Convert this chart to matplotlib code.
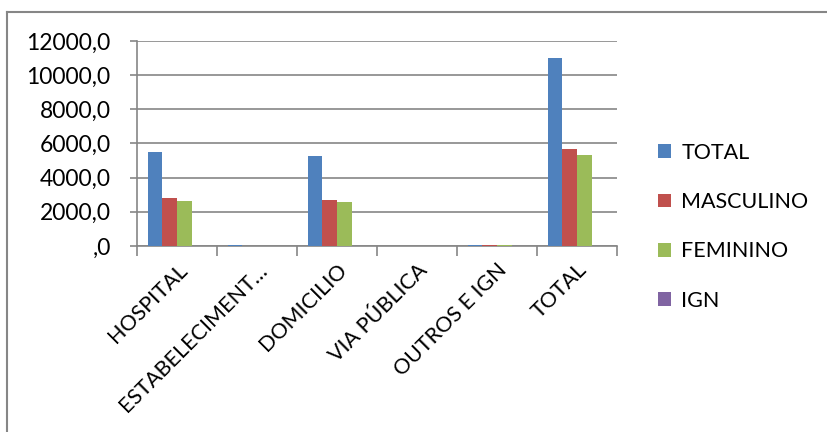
import matplotlib.pyplot as plt
import numpy as np
from matplotlib.lines import Line2D

categories = ['HOSPITAL', 'ESTABELECIMENT…', 'DOMICILIO', 'VIA PÚBLICA', 'OUTROS E IGN', 'TOTAL']
series_names = ['TOTAL', 'MASCULINO', 'FEMININO', 'IGN']
total = [5490, 30, 5250, 20, 80, 11010]
masculino = [2830, 15, 2680, 10, 45, 5680]
feminino = [2620, 12, 2560, 8, 30, 5330]
ign = [0, 0, 0, 0, 5, 5]
colors = ['#4f81bd', '#c0504d', '#9bbb59', '#8064a2']

plt.rcParams['font.family'] = ['Lato', 'DejaVu Sans']

fig = plt.figure(figsize=(8.28, 4.32), dpi=100)
ax = fig.add_axes([0.1655, 0.4306, 0.5797, 0.4745])

x = np.arange(len(categories))
w = 1 / 5.5
data = [total, masculino, feminino, ign]
for i, vals in enumerate(data):
    ax.bar(x + (i - 1.5) * w, vals, w, color=colors[i], label=series_names[i], zorder=3)

ax.set_xlim(-0.5, len(categories) - 0.5)
ax.set_ylim(0, 12000)
ax.set_yticks(np.arange(0, 12001, 2000))
ax.set_yticklabels([',0'] + ['%d,0' % v for v in range(2000, 12001, 2000)], fontsize=16.5)
ax.yaxis.grid(True, color='#868686', linewidth=1.2, zorder=0)

ax.set_xticks(np.arange(-0.5, len(categories), 1))
ax.set_xticklabels([])
ax.set_xticks(x, minor=True)
ax.set_xticklabels(categories, minor=True, rotation=45, ha='right', rotation_mode='anchor', fontsize=15.5)
ax.tick_params(axis='x', which='major', length=7, color='#868686', width=1.2)
ax.tick_params(axis='x', which='minor', length=0, pad=10)
ax.tick_params(axis='y', length=5, color='#868686', width=1.2, pad=14)

for s in ['top', 'right']:
    ax.spines[s].set_visible(False)
for s in ['left', 'bottom']:
    ax.spines[s].set_color('#868686')
    ax.spines[s].set_linewidth(1.2)

leg = ax.legend(loc='upper left', bbox_to_anchor=(1.067, 0.545), frameon=False, fontsize=15.5,
                handlelength=0.6, handleheight=0.6, labelspacing=1.36, handletextpad=0.5,
                borderaxespad=0)

# outer frame (only left and top edges are inside the picture)
fig.lines.append(Line2D([0.009, 0.009], [0, 0.973], transform=fig.transFigure,
                        color='#868686', linewidth=1.5))
fig.lines.append(Line2D([0.009, 1.0], [0.973, 0.973], transform=fig.transFigure,
                        color='#868686', linewidth=1.5))

fig.savefig('out.png', dpi=100)
